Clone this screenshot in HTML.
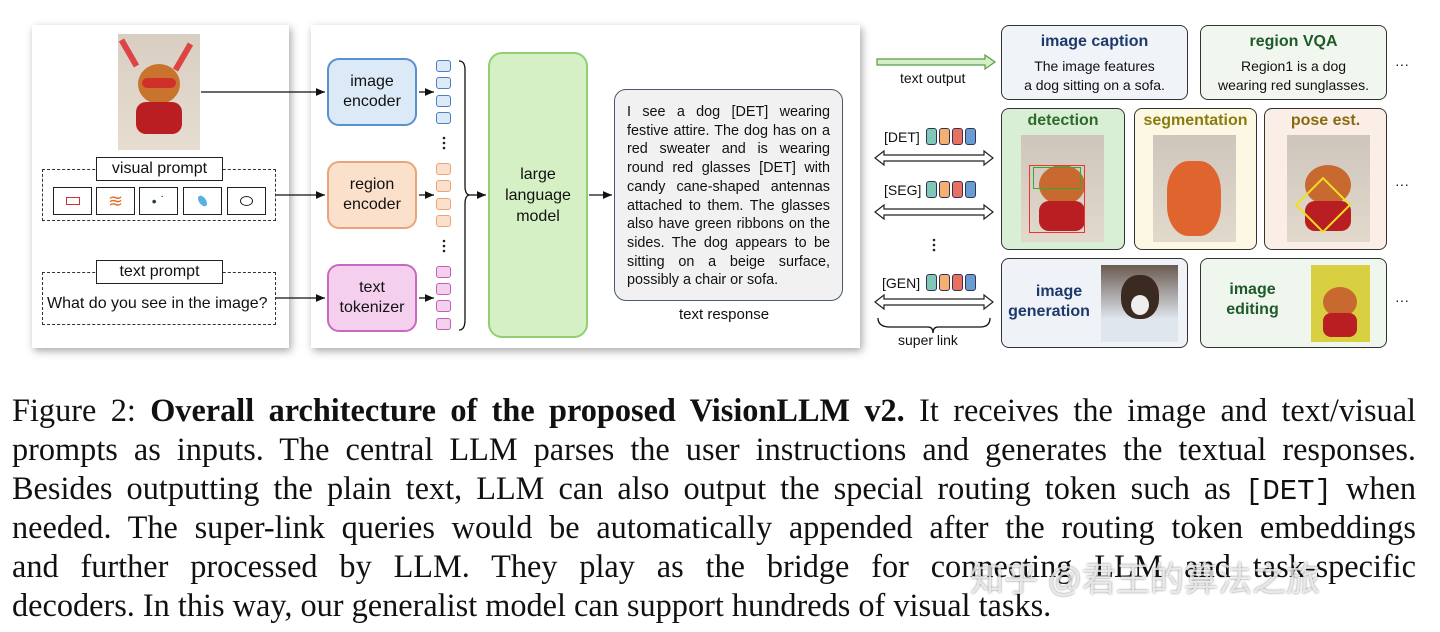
<!DOCTYPE html>
<html><head><meta charset="utf-8"><style>
*{margin:0;padding:0;box-sizing:border-box}
body{width:1440px;height:632px;background:#fff;position:relative;overflow:hidden;font-family:"Liberation Sans",sans-serif;color:#111}
.a{position:absolute}
.panel{background:#fff;box-shadow:2px 3px 8px rgba(0,0,0,.35)}
.c{display:flex;align-items:center;justify-content:center;text-align:center}
.enc{border-radius:12px;border:2px solid;font-size:16px;line-height:20px}
.tk{width:15px;height:12px;border:1.5px solid;border-radius:3px}
.lbl{background:#fff;border:1.5px solid #222;font-size:16px}
.dash{border:1.5px dashed #333}
.sb{border:1.5px solid #222;background:#fff}
.task{border:1.5px solid #333;border-radius:8px}
.tt{font-weight:bold;font-size:16px}
.cap{font-family:"Liberation Serif",serif;font-size:32.3px;line-height:39px;left:12px;width:1404px;text-align:justify;text-align-last:justify;white-space:nowrap}
.img{overflow:hidden}
.ct{width:11px;height:17px;border:1.2px solid #335;border-radius:3px;display:inline-block;margin-right:2px}
</style></head><body>

<div class="a panel" style="left:32px;top:25px;width:257px;height:323px"></div>
<div class="a panel" style="left:311px;top:25px;width:549px;height:323px"></div>

<div class="a img" style="left:118px;top:34px;width:82px;height:116px;background:linear-gradient(#d8cfc2,#e6ddd0)">
 <div class="a" style="left:20px;top:30px;width:42px;height:40px;border-radius:50%;background:#c8742e"></div>
 <div class="a" style="left:18px;top:68px;width:46px;height:32px;border-radius:10px;background:#b81e22"></div>
 <div class="a" style="left:24px;top:44px;width:34px;height:10px;background:#d0302a;border-radius:5px"></div>
 <div class="a" style="left:8px;top:4px;width:6px;height:30px;background:#d44;transform:rotate(-30deg)"></div>
 <div class="a" style="left:62px;top:8px;width:6px;height:30px;background:#d44;transform:rotate(30deg)"></div>
</div>

<div class="a dash" style="left:42px;top:169px;width:234px;height:52px"></div>
<div class="a lbl c" style="left:96px;top:157px;width:127px;height:24px">visual prompt</div>
<div class="a sb c" style="left:53px;top:187px;width:39px;height:28px"><div style="width:14px;height:8px;border:1.5px solid #c33"></div></div>
<div class="a sb c" style="left:96px;top:187px;width:39px;height:28px;color:#e07030;font-size:18px">≋</div>
<div class="a sb c" style="left:139px;top:187px;width:39px;height:28px;color:#245;font-size:14px">• ˙</div>
<div class="a sb c" style="left:183px;top:187px;width:39px;height:28px"><div style="width:7px;height:12px;background:#5ab0e0;border-radius:50%;transform:rotate(-35deg)"></div></div>
<div class="a sb c" style="left:227px;top:187px;width:39px;height:28px"><div style="width:13px;height:10px;border:1.5px solid #222;border-radius:50%"></div></div>

<div class="a dash" style="left:42px;top:272px;width:234px;height:53px"></div>
<div class="a lbl c" style="left:96px;top:260px;width:127px;height:24px">text prompt</div>
<div class="a" style="left:47px;top:295px;font-size:16px">What do you see in the image?</div>

<div class="a enc c" style="left:327px;top:58px;width:90px;height:68px;background:#dce9f7;border-color:#5a8fd0">image<br>encoder</div>
<div class="a enc c" style="left:327px;top:161px;width:90px;height:68px;background:#fbe0cc;border-color:#e8a57a">region<br>encoder</div>
<div class="a enc c" style="left:327px;top:264px;width:90px;height:68px;background:#f5d0ee;border-color:#c868c0">text<br>tokenizer</div>

<div class="a tk" style="left:436px;top:60px;background:#dce9f7;border-color:#4a80c0"></div>
<div class="a tk" style="left:436px;top:77px;background:#dce9f7;border-color:#4a80c0"></div>
<div class="a tk" style="left:436px;top:95px;background:#dce9f7;border-color:#4a80c0"></div>
<div class="a tk" style="left:436px;top:112px;background:#dce9f7;border-color:#4a80c0"></div>
<div class="a tk" style="left:436px;top:163px;background:#fbe0cc;border-color:#e8a57a"></div>
<div class="a tk" style="left:436px;top:180px;background:#fbe0cc;border-color:#e8a57a"></div>
<div class="a tk" style="left:436px;top:198px;background:#fbe0cc;border-color:#e8a57a"></div>
<div class="a tk" style="left:436px;top:215px;background:#fbe0cc;border-color:#e8a57a"></div>
<div class="a tk" style="left:436px;top:266px;background:#f5d0ee;border-color:#c060b8"></div>
<div class="a tk" style="left:436px;top:283px;background:#f5d0ee;border-color:#c060b8"></div>
<div class="a tk" style="left:436px;top:300px;background:#f5d0ee;border-color:#c060b8"></div>
<div class="a tk" style="left:436px;top:318px;background:#f5d0ee;border-color:#c060b8"></div>

<div class="a c" style="left:488px;top:52px;width:100px;height:286px;background:#d4f0c4;border:2px solid #90d070;border-radius:14px;font-size:16px;line-height:21px">large<br>language<br>model</div>

<div class="a" style="left:614px;top:89px;width:229px;height:212px;background:#f1f1f1;border:1.5px solid #4a5a6a;border-radius:12px"></div>
<div class="a" style="left:627px;top:103px;width:203px;font-size:14.4px;line-height:18.7px;text-align:justify">I see a dog [DET] wearing festive attire. The dog has on a red sweater and is wearing round red glasses [DET] with candy cane-shaped antennas attached to them. The glasses also have green ribbons on the sides. The dog appears to be sitting on a beige surface, possibly a chair or sofa.</div>
<div class="a" style="left:679px;top:306px;font-size:15px">text response</div>

<svg class="a" style="left:0;top:0" width="1440" height="360">
<defs><marker id="ar" markerWidth="8" markerHeight="8" refX="7" refY="4" orient="auto"><path d="M0,1 L7,4 L0,7z" fill="#111"/></marker></defs>
<g stroke="#111" stroke-width="1.3" fill="none">
<line x1="201" y1="92" x2="325" y2="92" marker-end="url(#ar)"/>
<line x1="276" y1="195" x2="325" y2="195" marker-end="url(#ar)"/>
<line x1="276" y1="298" x2="325" y2="298" marker-end="url(#ar)"/>
<line x1="419" y1="92" x2="434" y2="92" marker-end="url(#ar)"/>
<line x1="419" y1="195" x2="434" y2="195" marker-end="url(#ar)"/>
<line x1="419" y1="298" x2="434" y2="298" marker-end="url(#ar)"/>
<path d="M459,61 Q465,61 465,70 L465,186 Q465,195 470,195 Q465,195 465,204 L465,320 Q465,330 459,330"/>
<line x1="470" y1="195" x2="486" y2="195" marker-end="url(#ar)"/>
<line x1="589" y1="195" x2="612" y2="195" marker-end="url(#ar)"/>
<path d="M878,318 Q878,327 890,327 L928,327 Q933,327 933,333 Q933,327 938,327 L980,327 Q990,327 990,318"/>
</g>
<g fill="#222"><circle cx="444" cy="138" r="1.3"/><circle cx="444" cy="143" r="1.3"/><circle cx="444" cy="148" r="1.3"/>
<circle cx="444" cy="241" r="1.3"/><circle cx="444" cy="246" r="1.3"/><circle cx="444" cy="251" r="1.3"/>
<circle cx="934" cy="240" r="1.3"/><circle cx="934" cy="245" r="1.3"/><circle cx="934" cy="250" r="1.3"/></g>
<path d="M877,59 L985,59 L985,55 L995,62 L985,69 L985,65 L877,65z" fill="#d4f0c4" stroke="#5a9a4a" stroke-width="1.2"/>
<g fill="#fff" stroke="#222" stroke-width="1.2">
<path d="M875,158 L884,151 L884,155 L984,155 L984,151 L993,158 L984,165 L984,161 L884,161 L884,165z"/>
<path d="M875,212 L884,205 L884,209 L984,209 L984,205 L993,212 L984,219 L984,215 L884,215 L884,219z"/>
<path d="M875,302 L884,295 L884,299 L984,299 L984,295 L993,302 L984,309 L984,305 L884,305 L884,309z"/>
</g>
</svg>

<div class="a" style="left:900px;top:70px;font-size:14px">text output</div>
<div class="a" style="left:884px;top:129px;font-size:14px">[DET]</div>
<div class="a" style="left:884px;top:182px;font-size:14px">[SEG]</div>
<div class="a" style="left:882px;top:275px;font-size:14px">[GEN]</div>
<div class="a" style="left:926px;top:128px"><span class="ct" style="background:#7fc8b8"></span><span class="ct" style="background:#f4b070"></span><span class="ct" style="background:#e87060"></span><span class="ct" style="background:#6a9cd0"></span></div>
<div class="a" style="left:926px;top:181px"><span class="ct" style="background:#7fc8b8"></span><span class="ct" style="background:#f4b070"></span><span class="ct" style="background:#e87060"></span><span class="ct" style="background:#6a9cd0"></span></div>
<div class="a" style="left:926px;top:274px"><span class="ct" style="background:#7fc8b8"></span><span class="ct" style="background:#f4b070"></span><span class="ct" style="background:#e87060"></span><span class="ct" style="background:#6a9cd0"></span></div>
<div class="a" style="left:898px;top:332px;font-size:14px">super link</div>

<div class="a task" style="left:1001px;top:25px;width:187px;height:75px;background:#f0f3f8"></div>
<div class="a tt" style="left:1001px;top:33px;width:187px;text-align:center;color:#1e3a6a">image caption</div>
<div class="a" style="left:1001px;top:57px;width:187px;text-align:center;font-size:14px;line-height:19px">The image features<br>a dog sitting on a sofa.</div>
<div class="a task" style="left:1200px;top:25px;width:187px;height:75px;background:#f1f7ee"></div>
<div class="a tt" style="left:1200px;top:33px;width:187px;text-align:center;color:#1e5a2a">region VQA</div>
<div class="a" style="left:1200px;top:57px;width:187px;text-align:center;font-size:14px;line-height:19px">Region1 is a dog<br>wearing red sunglasses.</div>
<div class="a" style="left:1395px;top:56px;font-size:14px">···</div>

<div class="a task" style="left:1001px;top:108px;width:124px;height:142px;background:#d8efd6"></div>
<div class="a tt" style="left:1001px;top:112px;width:124px;text-align:center;color:#2e6a2a">detection</div>
<div class="a task" style="left:1134px;top:108px;width:123px;height:142px;background:#fdf8e4"></div>
<div class="a tt" style="left:1134px;top:112px;width:123px;text-align:center;color:#8a7a10">segmentation</div>
<div class="a task" style="left:1264px;top:108px;width:123px;height:142px;background:#fbeee6"></div>
<div class="a tt" style="left:1264px;top:112px;width:123px;text-align:center;color:#8a6a10">pose est.</div>
<div class="a" style="left:1395px;top:176px;font-size:14px">···</div>

<div class="a img" style="left:1021px;top:135px;width:83px;height:107px;background:linear-gradient(#cfc6bb,#e2d9cd)"><div class="a" style="left:18px;top:30px;width:46px;height:40px;border-radius:50%;background:#c86a30"></div><div class="a" style="left:18px;top:66px;width:46px;height:30px;border-radius:10px;background:#b81e22"></div><div class="a" style="left:8px;top:30px;width:56px;height:68px;border:1.5px solid #e33"></div><div class="a" style="left:12px;top:32px;width:48px;height:22px;border:1.5px solid #3a3"></div></div>
<div class="a img" style="left:1153px;top:135px;width:83px;height:107px;background:linear-gradient(#cfc6bb,#e2d9cd)"><div class="a" style="left:14px;top:26px;width:54px;height:75px;border-radius:40%;background:#e0642e"></div></div>
<div class="a img" style="left:1287px;top:135px;width:83px;height:107px;background:linear-gradient(#cfc6bb,#e2d9cd)"><div class="a" style="left:18px;top:30px;width:46px;height:40px;border-radius:50%;background:#c86a30"></div><div class="a" style="left:18px;top:66px;width:46px;height:30px;border-radius:10px;background:#b81e22"></div><div class="a" style="left:16px;top:50px;width:40px;height:40px;border:2px solid #f0e020;transform:rotate(45deg)"></div></div>

<div class="a task" style="left:1001px;top:258px;width:187px;height:90px;background:#eff2f7"></div>
<div class="a tt c" style="left:1001px;top:280px;width:96px;height:44px;flex-direction:column;color:#1e3a6a;line-height:20px"><span style="margin-left:20px">image</span><span>generation</span></div>
<div class="a img" style="left:1101px;top:265px;width:77px;height:77px;background:linear-gradient(#6a5a50,#dfe6ee 70%)"><div class="a" style="left:20px;top:10px;width:38px;height:44px;border-radius:45%;background:#3a2a22"></div><div class="a" style="left:30px;top:30px;width:18px;height:20px;border-radius:50%;background:#eee"></div></div>
<div class="a task" style="left:1200px;top:258px;width:187px;height:90px;background:#eff6ee"></div>
<div class="a tt c" style="left:1200px;top:278px;width:105px;height:44px;flex-direction:column;color:#1e5a2a;line-height:20px"><span>image</span><span>editing</span></div>
<div class="a img" style="left:1311px;top:265px;width:59px;height:77px;background:#d8d040"><div class="a" style="left:12px;top:22px;width:34px;height:30px;border-radius:50%;background:#c86a30"></div><div class="a" style="left:12px;top:48px;width:34px;height:24px;border-radius:8px;background:#b81e22"></div></div>
<div class="a" style="left:1395px;top:292px;font-size:14px">···</div>

<div class="a cap" style="top:391px">Figure 2: <b>Overall architecture of the proposed VisionLLM v2.</b> It receives the image and text/visual</div>
<div class="a cap" style="top:430px">prompts as inputs. The central LLM parses the user instructions and generates the textual responses.</div>
<div class="a cap" style="top:469px">Besides outputting the plain text, LLM can also output the special routing token such as <span style="font-family:'Liberation Mono',monospace;font-size:29px">[DET]</span> when</div>
<div class="a cap" style="top:508px">needed. The super-link queries would be automatically appended after the routing token embeddings</div>
<div class="a cap" style="top:547px">and further processed by LLM. They play as the bridge for connecting LLM and task-specific</div>
<div class="a cap" style="top:586px;text-align-last:left">decoders. In this way, our generalist model can support hundreds of visual tasks.</div>
<div class="a" style="left:970px;top:552px;font-size:34px;color:rgba(255,255,255,.75);font-family:'Liberation Sans','Noto Sans CJK SC',sans-serif;text-shadow:0 0 2px rgba(0,0,0,.5)">知乎 @君王的算法之旅</div>
</body></html>
